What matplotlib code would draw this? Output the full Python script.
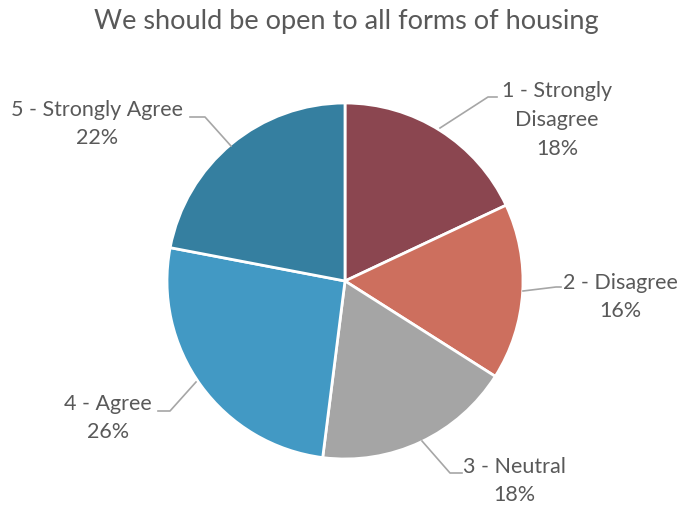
import matplotlib
matplotlib.use("Agg")
import matplotlib.pyplot as plt

title = "We should be open to all forms of housing"
labels = ["1 - Strongly\nDisagree", "2 - Disagree", "3 - Neutral", "4 - Agree", "5 - Strongly Agree"]
shares = [18, 16, 18, 26, 22]
colors = ["#8B4650", "#CD6F5E", "#A5A5A5", "#4299C4", "#357FA0"]

W, H = 680, 508
fig = plt.figure(figsize=(W / 100, H / 100), dpi=100)
ax = fig.add_axes([0, 0, 1, 1])

cx, cy, r = 345, 281, 178
wedges, _ = ax.pie(shares, colors=colors, startangle=-90, counterclock=True,
                   center=(cx, cy), radius=r, frame=True,
                   wedgeprops=dict(edgecolor="white", linewidth=2))
ax.set_xlim(0, W)
ax.set_ylim(H, 0)
ax.axis("off")

# label block centre (x, y) and leader polyline
spots = [
    (557, 120, [(440, 128), (488, 97), (497, 97)]),
    (620, 297, [(523, 291), (556, 287), (561, 287)]),
    (514, 481, [(422, 441), (450, 473), (462, 473)]),
    (108, 418, [(196, 382), (170, 411), (158, 411)]),
    (97, 124, [(231, 146), (205, 117), (190, 117)]),
]
txt = "#595959"
for lab, pct, (tx, ty, pts) in zip(labels, shares, spots):
    ax.text(tx, ty, f"{lab}\n{pct}%", ha="center", va="center", fontsize=15.5,
            family="Lato", color=txt, linespacing=1.55)
    xs, ys = zip(*pts)
    ax.plot(xs, ys, color="#A6A6A6", lw=1.2)

ax.text(346, 22, title, ha="center", va="center", fontsize=19.5,
        family="Lato", color=txt)

fig.savefig("out.png", dpi=100)
